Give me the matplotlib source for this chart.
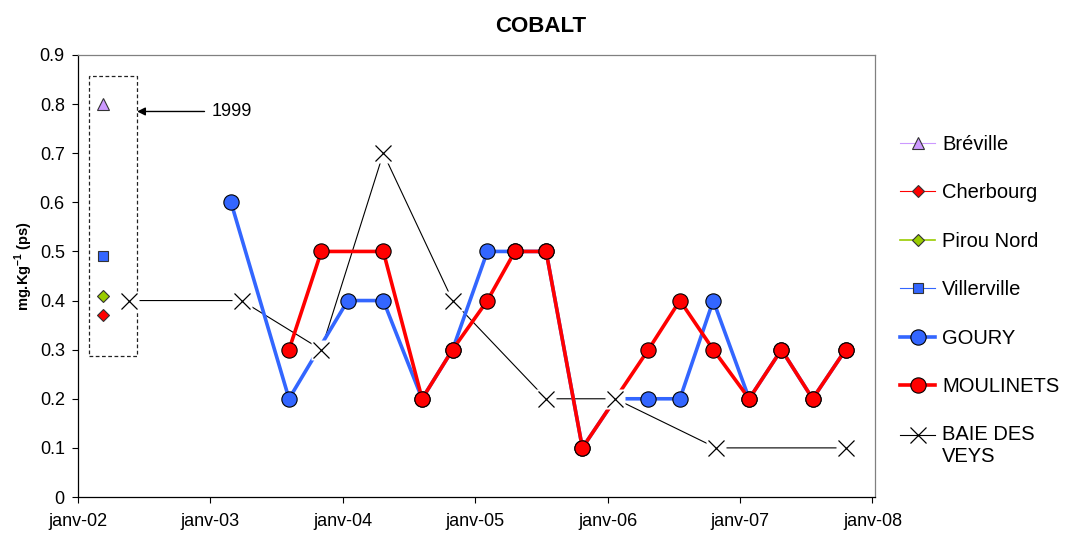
import datetime as dt
import matplotlib
matplotlib.use("Agg")
import matplotlib.pyplot as plt
import matplotlib.dates as mdates
from matplotlib.patches import Rectangle
from matplotlib.lines import Line2D

plt.rcParams['font.family'] = ['Liberation Sans', 'DejaVu Sans']
plt.rcParams['mathtext.fontset'] = 'custom'
plt.rcParams['mathtext.rm'] = 'Liberation Sans'
plt.rcParams['mathtext.bf'] = 'Liberation Sans:bold'

# ---------------- data ----------------
tick_dates = ['2002-01-01', '2003-01-01', '2004-01-01', '2005-01-01',
              '2006-01-01', '2007-01-01', '2008-01-01']
tick_labels = ['janv-02', 'janv-03', 'janv-04', 'janv-05', 'janv-06', 'janv-07', 'janv-08']

ref1999_date = '2002-03-11'
breville = [0.80]
villerville = [0.49]
pirou_nord = [0.41]
cherbourg = [0.37]

goury_dates = ['2003-02-27', '2003-08-06', '2004-01-15', '2004-04-22', '2004-08-07',
               '2004-10-30', '2005-02-03', '2005-04-20', '2005-07-15', '2005-10-23',
               '2006-01-22', '2006-04-23', '2006-07-19', '2006-10-19', '2007-01-26',
               '2007-04-25', '2007-07-20', '2007-10-19']
goury = [0.6, 0.2, 0.4, 0.4, 0.2, 0.3, 0.5, 0.5, 0.5, 0.1,
         0.2, 0.2, 0.2, 0.4, 0.2, 0.3, 0.2, 0.3]

moulinets_dates = ['2003-08-06', '2003-11-03', '2004-04-22', '2004-08-07', '2004-10-30',
                   '2005-02-03', '2005-04-20', '2005-07-15', '2005-10-23', '2006-04-23',
                   '2006-07-19', '2006-10-19', '2007-01-26', '2007-04-25', '2007-07-20',
                   '2007-10-19']
moulinets = [0.3, 0.5, 0.5, 0.2, 0.3, 0.4, 0.5, 0.5, 0.1, 0.3,
             0.4, 0.3, 0.2, 0.3, 0.2, 0.3]

baie_dates = ['2002-05-22', '2003-03-28', '2003-11-03', '2004-04-22', '2004-10-30',
              '2005-07-15', '2006-01-22', '2006-10-27', '2007-10-19']
baie = [0.4, 0.4, 0.3, 0.7, 0.4, 0.2, 0.2, 0.1, 0.1]


def d(s):
    return dt.datetime.strptime(s, '%Y-%m-%d')


# ---------------- figure ----------------
fig = plt.figure(figsize=(10.66, 5.36), dpi=100)
ax = fig.add_axes([78 / 1066, 1 - 497 / 536, (875 - 78) / 1066, (497 - 55) / 536])

BLUE = '#3366FF'
RED = '#FF0000'

# Baie des Veys line
ax.plot([d(s) for s in baie_dates], baie, color='black', lw=0.8, zorder=2)

# GOURY & MOULINETS
ax.plot([d(s) for s in goury_dates], goury, color=BLUE, lw=2.6, marker='o',
        markersize=11, markerfacecolor=BLUE, markeredgecolor='black',
        markeredgewidth=0.8, zorder=3)
ax.plot([d(s) for s in moulinets_dates], moulinets, color=RED, lw=2.6, marker='o',
        markersize=11, markerfacecolor=RED, markeredgecolor='black',
        markeredgewidth=0.8, zorder=4)

# white halo behind X markers
ax.plot([d(s) for s in baie_dates], baie, linestyle='none', marker='s',
        markersize=15, markerfacecolor='white', markeredgecolor='none', zorder=5)
ax.plot([d(s) for s in baie_dates], baie, linestyle='none', marker='x',
        markersize=11.5, markeredgecolor='black', markeredgewidth=0.9, zorder=6)

# 1999 points
x99 = d(ref1999_date)
h_bre, = ax.plot([x99], breville, color='#CC99FF', lw=0.8, marker='^', markersize=8,
                 markerfacecolor='#CC99FF', markeredgecolor='#333333', markeredgewidth=0.8,
                 zorder=6)
h_che, = ax.plot([x99], cherbourg, color=RED, lw=0.8, marker='D', markersize=6,
                 markerfacecolor=RED, markeredgecolor='#333333', markeredgewidth=0.8,
                 zorder=6)
h_pir, = ax.plot([x99], pirou_nord, color='#99CC00', lw=1.2, marker='D', markersize=6,
                 markerfacecolor='#99CC00', markeredgecolor='#333333', markeredgewidth=0.8,
                 zorder=6)
h_vil, = ax.plot([x99], villerville, color=BLUE, lw=0.8, marker='s', markersize=7,
                 markerfacecolor=BLUE, markeredgecolor='#333333', markeredgewidth=0.8,
                 zorder=6)

# dashed box around 1999 values
box_x0, box_x1 = d('2002-01-30'), d('2002-06-13')
bx0, bx1 = mdates.date2num(box_x0), mdates.date2num(box_x1)
ax.add_patch(Rectangle((bx0, 0.287), bx1 - bx0, 0.857 - 0.287, fill=False,
                       edgecolor='#222222', linestyle=(0, (3, 2)), lw=0.9, zorder=1))

ax.annotate('1999', xy=(box_x1, 0.785), xytext=(d('2003-01-04'), 0.785),
            fontsize=13, va='center', ha='left',
            arrowprops=dict(arrowstyle='-|>', color='black', lw=1.0,
                            mutation_scale=12, shrinkA=3, shrinkB=0))

# axes styling
ax.set_xlim(d('2002-01-01'), d('2008-01-08'))
ax.set_ylim(0, 0.9)
ax.set_xticks([d(s) for s in tick_dates])
ax.set_xticklabels(tick_labels)
ax.set_yticks([0, 0.1, 0.2, 0.3, 0.4, 0.5, 0.6, 0.7, 0.8, 0.9])
ax.set_yticklabels(['0', '0.1', '0.2', '0.3', '0.4', '0.5', '0.6', '0.7', '0.8', '0.9'])
ax.tick_params(axis='both', direction='out', length=4.5, width=0.8, labelsize=13, color='black')
ax.tick_params(axis='x', pad=7)
ax.tick_params(axis='y', pad=5)
for side in ['left', 'bottom']:
    ax.spines[side].set_color('black')
    ax.spines[side].set_linewidth(0.9)
for side in ['top', 'right']:
    ax.spines[side].set_color('#808080')
    ax.spines[side].set_linewidth(0.9)

ax.set_ylabel('mg.Kg$^{\\mathbf{-1}}$ (ps)', fontsize=10.5, fontweight='bold')
ax.yaxis.set_label_coords(-0.054, 0.523)
fig.text(541 / 1066, 1 - 27 / 536, 'COBALT', fontsize=16, fontweight='bold',
         ha='center', va='center')

# legend
h_goury = Line2D([], [], color=BLUE, lw=2.6, marker='o', markersize=11,
                 markerfacecolor=BLUE, markeredgecolor='black', markeredgewidth=0.8)
h_moul = Line2D([], [], color=RED, lw=2.6, marker='o', markersize=11,
                markerfacecolor=RED, markeredgecolor='black', markeredgewidth=0.8)
h_baie = Line2D([], [], color='black', lw=0.8, marker='x', markersize=11.5,
                markeredgecolor='black', markeredgewidth=0.9)
leg = fig.legend([h_bre, h_che, h_pir, h_vil, h_goury, h_moul, h_baie],
                 ['Bréville', 'Cherbourg', 'Pirou Nord', 'Villerville', 'GOURY',
                  'MOULINETS', 'BAIE DES\nVEYS'],
                 loc='upper left', bbox_to_anchor=(900 / 1066, 1 - 135 / 536),
                 frameon=False, fontsize=14.5, handlelength=1.75, handletextpad=0.35,
                 labelspacing=1.46, borderpad=0, borderaxespad=0)
# put the BAIE DES VEYS handle on the first text line
hb = leg.legend_handles[-1]
yd = hb.get_ydata()
hb.set_ydata([y + 8.3 for y in yd])

fig.savefig('out.png', dpi=100)
